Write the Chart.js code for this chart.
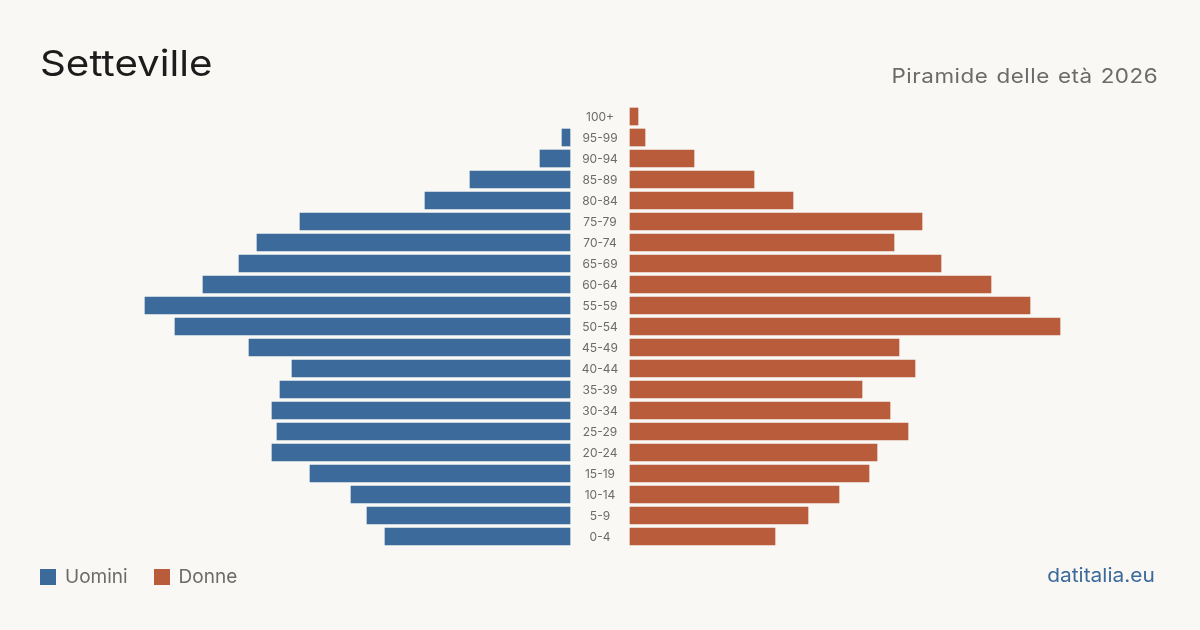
<!DOCTYPE html>
<html lang="it">
<head>
<meta charset="utf-8">
<title>Setteville - Piramide delle età 2026</title>
<script src="https://cdn.jsdelivr.net/npm/chart.js@4"></script>
<style>
  html, body { margin: 0; padding: 0; }
  body {
    width: 1200px; height: 630px; overflow: hidden; position: relative;
    background: #f9f8f4; font-family: Inter, "Noto Sans", sans-serif;
  }
  #chart { position: absolute; left: 0; top: 0; }
  .title { position: absolute; left: 40px; top: 45px; font-size: 36px; color: #1c1c1c; line-height: 1;
    transform: scaleX(1.12); transform-origin: left center; white-space: nowrap; }
  .subtitle { position: absolute; right: 42px; top: 66px; font-size: 20px; color: #6b6b6b; line-height: 1;
    letter-spacing: 0.5px; word-spacing: 1px; transform: scaleX(1.12); transform-origin: right center; white-space: nowrap; }
  .legend { position: absolute; left: 40px; top: 567px; display: flex; align-items: center; font-size: 19px; color: #6b6b6b; line-height: 20px; }
  .legend span.sw { display: inline-block; width: 16px; height: 16px; margin-right: 9px; }
  .legend .item { display: flex; align-items: center; margin-right: 26px; }
  .source { position: absolute; right: 45px; top: 566px; font-size: 19px; color: #3b6a9b; line-height: 20px;
    transform: scaleX(1.1); transform-origin: right center; white-space: nowrap; }
</style>
</head>
<body>
<canvas id="chart" width="1200" height="630"></canvas>
<div class="title">Setteville</div>
<div class="subtitle">Piramide delle età 2026</div>
<div class="legend">
  <div class="item"><span class="sw" style="background:#3b6a9b"></span>Uomini</div>
  <div class="item"><span class="sw" style="background:#b95c3c"></span>Donne</div>
</div>
<div class="source">datitalia.eu</div>
<script>
// age groups, youngest first
const ageGroups = ["0-4", "5-9", "10-14", "15-19", "20-24", "25-29", "30-34", "35-39", "40-44", "45-49",
  "50-54", "55-59", "60-64", "65-69", "70-74", "75-79", "80-84", "85-89", "90-94", "95-99", "100+"];
const men = [185, 203, 219, 260, 298, 293, 298, 290, 278, 321,
  395, 425, 367, 331, 313, 270, 145, 100, 30, 8, 0];
const women = [145, 178, 209, 239, 247, 278, 260, 232, 285, 269,
  430, 400, 361, 311, 264, 292, 163, 124, 64, 15, 8];

const GAP = 30; // half of the space kept for the age labels
const BLUE = "#3b6a9b";
const RUST = "#b95c3c";

const centerLabels = {
  id: "centerLabels",
  afterDatasetsDraw(chart) {
    const { ctx, scales } = chart;
    const x = scales.x.getPixelForValue(0);
    ctx.save();
    ctx.font = "12px Inter, 'Noto Sans', sans-serif";
    ctx.fillStyle = "#6b6b6b";
    ctx.textAlign = "center";
    ctx.textBaseline = "middle";
    ageGroups.forEach((g, i) => {
      ctx.fillText(g, x, scales.y.getPixelForValue(i) + 0.5);
    });
    ctx.restore();
  }
};

new Chart(document.getElementById("chart"), {
  type: "bar",
  data: {
    labels: ageGroups,
    datasets: [
      {
        label: "Uomini",
        data: men.map(v => v ? [-(GAP + v), -GAP] : null),
        backgroundColor: BLUE,
        grouped: false,
        barThickness: 17
      },
      {
        label: "Donne",
        data: women.map(v => v ? [GAP, GAP + v] : null),
        backgroundColor: RUST,
        grouped: false,
        barThickness: 17
      }
    ]
  },
  options: {
    indexAxis: "y",
    responsive: false,
    animation: false,
    layout: { padding: { left: 100, right: 100, top: 106, bottom: 83 } },
    plugins: {
      legend: { display: false },
      tooltip: { enabled: false }
    },
    scales: {
      x: { display: false, min: -500, max: 500 },
      y: { display: false, reverse: true }
    }
  },
  plugins: [centerLabels]
});
</script>
</body>
</html>
